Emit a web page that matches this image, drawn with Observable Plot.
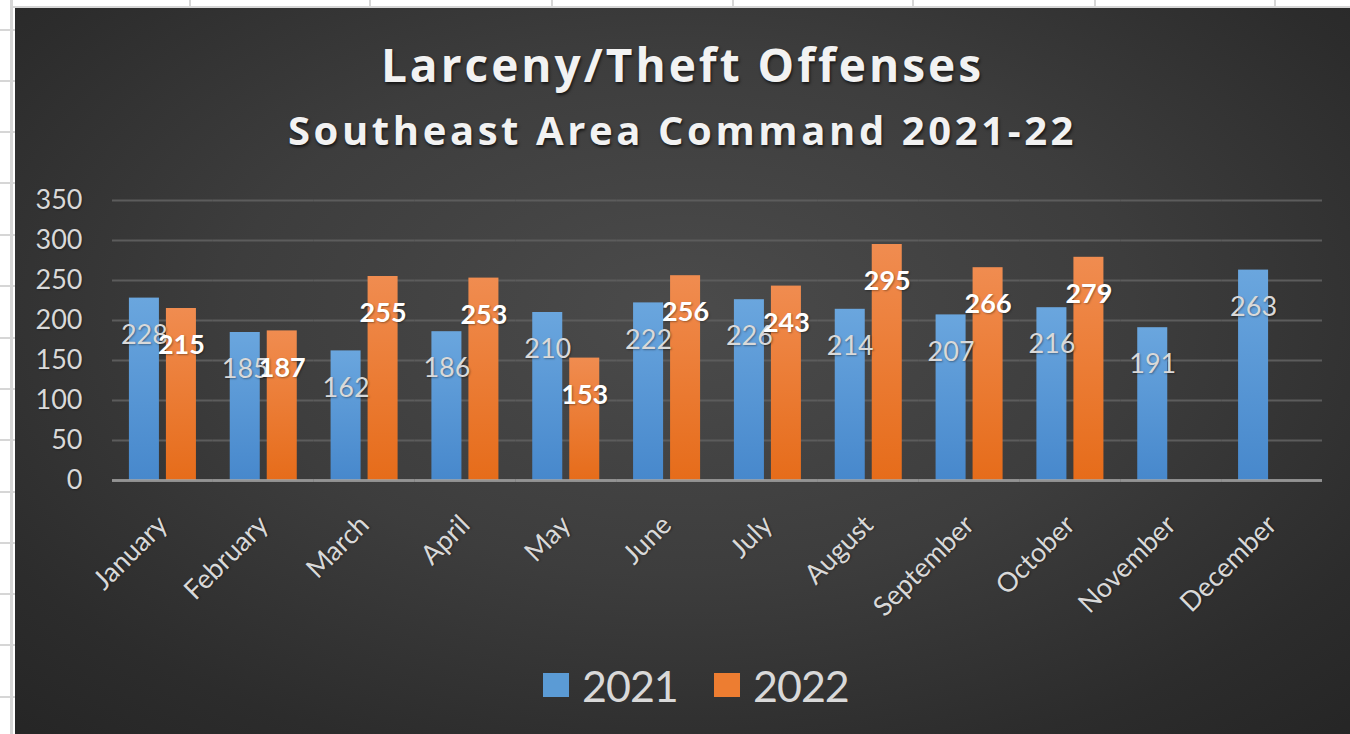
<!DOCTYPE html>
<html>
<head>
<meta charset="utf-8">
<script src="https://cdn.jsdelivr.net/npm/d3@7"></script>
<script src="https://cdn.jsdelivr.net/npm/@observablehq/plot@0.6"></script>
<style>
  html, body { margin: 0; padding: 0; }
  body { width: 1350px; height: 734px; position: relative; overflow: hidden; background: #ffffff; }
  .gl { position: absolute; background: #d6d6d6; }
  #chart {
    position: absolute; left: 15px; top: 8px; width: 1335px; height: 726px;
    background: radial-gradient(ellipse 75% 80% at 50% 42%, #4b4b4b 0%, #3d3d3d 45%, #2c2c2c 80%, #252525 100%);
    overflow: hidden;
  }
  .title {
    position: absolute; left: 0; width: 1335px; text-align: center;
    font-family: "Open Sans", sans-serif; font-weight: 700; color: #f2f2f2;
    text-shadow: 1px 2px 3px rgba(0,0,0,0.65);
  }
  #t1 { top: 33px; font-size: 46px; line-height: 46px; letter-spacing: 3px; }
  #t2 { top: 102px; font-size: 40px; line-height: 40px; letter-spacing: 3.6px; }
  #plot { position: absolute; left: 0; top: 164px; }
  #legend { position: absolute; top: 650px; left: 0; width: 1335px; height: 60px; }
  .lg { position: absolute; font-family: Lato, sans-serif; font-size: 43px; line-height: 43px; color: #d9d9d9; letter-spacing: -1px; }
  .sw { position: absolute; width: 26px; height: 24px; }
</style>
</head>
<body>
<div id="grid"></div>
<div id="chart">
  <div class="title" id="t1"></div>
  <div class="title" id="t2"></div>
  <div id="plot"></div>
  <div id="legend"></div>
</div>
<script>
const titleText = "Larceny/Theft Offenses";
const subtitleText = "Southeast Area Command 2021-22";
const months = ["January","February","March","April","May","June","July","August","September","October","November","December"];
const years = ["2021","2022"];
const v2021 = [228,185,162,186,210,222,226,214,207,216,191,263];
const v2022 = [215,187,255,253,153,256,243,295,266,279];
const yTicks = [0,50,100,150,200,250,300,350];
const seriesColors = ["url(#gBlue)","url(#gOrange)"];
const legendColors = ["#5b9bd5","#ed7d31"];

// spreadsheet grid decoration
const grid = document.getElementById("grid");
[190,370,552,733,913,1095,1275].forEach(x => {
  const d = document.createElement("div"); d.className = "gl";
  d.style.left = (x-1)+"px"; d.style.top = "0px"; d.style.width = "2px"; d.style.height = "8px"; grid.appendChild(d);
});
{ const d = document.createElement("div"); d.className = "gl";
  d.style.left = "10px"; d.style.top = "0px"; d.style.width = "3px"; d.style.height = "734px"; grid.appendChild(d); }
{ const d = document.createElement("div"); d.className = "gl";
  d.style.left = "10px"; d.style.top = "6px"; d.style.width = "1340px"; d.style.height = "2px"; grid.appendChild(d); }
[30,81,132,183,235,286,338,389,440,492,543,594,645,697].forEach(y => {
  const d = document.createElement("div"); d.className = "gl";
  d.style.left = "0px"; d.style.top = (y-1)+"px"; d.style.width = "15px"; d.style.height = "2px"; grid.appendChild(d);
});

document.getElementById("t1").textContent = titleText;
document.getElementById("t2").textContent = subtitleText;

const data = months.flatMap((m, i) => {
  const rows = [{month: m, year: years[0], value: v2021[i]}];
  if (v2022[i] != null) rows.push({month: m, year: years[1], value: v2022[i]});
  return rows;
});

const plot = Plot.plot({
  width: 1335,
  height: 470,
  marginTop: 28,
  marginBottom: 162,
  marginLeft: 97,
  marginRight: 28,
  style: {background: "transparent", color: "#d9d9d9", fontFamily: "Lato, sans-serif", overflow: "visible"},
  fx: {domain: months, padding: 0, round: false, label: null},
  x: {domain: years, paddingInner: 0.189, paddingOuter: 0.457, round: false, axis: null},
  y: {domain: [0, 350], label: null},
  color: {domain: years, range: seriesColors},
  marks: [
    Plot.gridY(yTicks, {stroke: "#5c5c5c", strokeOpacity: 1, strokeWidth: 2}),
    Plot.barY(data, {fx: "month", x: "year", y: "value", fill: "year"}),
    Plot.ruleY([0], {stroke: "#a6a6a6", strokeOpacity: 0.75, strokeWidth: 3}),
    Plot.text(data.filter(d => d.year === years[0]), {fx: "month", x: "year", y: "value", text: d => String(d.value), dy: 37, fill: "#d9d9d9", fontSize: 27}),
    Plot.text(data.filter(d => d.year === years[1]), {fx: "month", x: "year", y: "value", text: d => String(d.value), dy: 37, fill: "#ffffff", fontSize: 27, fontWeight: "bold"}),
    Plot.axisY(yTicks, {tickSize: 0, tickPadding: 30, fontSize: 27, label: null, fill: "#d9d9d9"}),
    Plot.axisFx({anchor: "bottom", tickRotate: -45, tickSize: 0, tickPadding: 40, fontSize: 27, label: null, fill: "#d9d9d9"})
  ]
});

// gradients for bars
const svg = d3.select(plot);
const defs = svg.insert("defs", ":first-child");
const g1 = defs.append("linearGradient").attr("id", "gBlue").attr("x1", 0).attr("y1", 0).attr("x2", 0).attr("y2", 1);
g1.append("stop").attr("offset", "0%").attr("stop-color", "#6aa6de");
g1.append("stop").attr("offset", "100%").attr("stop-color", "#4788cc");
const g2 = defs.append("linearGradient").attr("id", "gOrange").attr("x1", 0).attr("y1", 0).attr("x2", 0).attr("y2", 1);
g2.append("stop").attr("offset", "0%").attr("stop-color", "#f08c50");
g2.append("stop").attr("offset", "100%").attr("stop-color", "#e66c1a");
svg.selectAll("text").style("text-shadow", "1px 1px 2px rgba(0,0,0,0.35)");

document.getElementById("plot").appendChild(plot);

// legend
const legend = document.getElementById("legend");
const swX = [528, 699];
years.forEach((y, i) => {
  const sw = document.createElement("div"); sw.className = "sw";
  sw.style.left = swX[i] + "px"; sw.style.top = "15px"; sw.style.background = legendColors[i];
  legend.appendChild(sw);
  const t = document.createElement("div"); t.className = "lg";
  t.style.left = (swX[i] + 39) + "px"; t.style.top = "6px"; t.textContent = y;
  legend.appendChild(t);
});
</script>
</body>
</html>
